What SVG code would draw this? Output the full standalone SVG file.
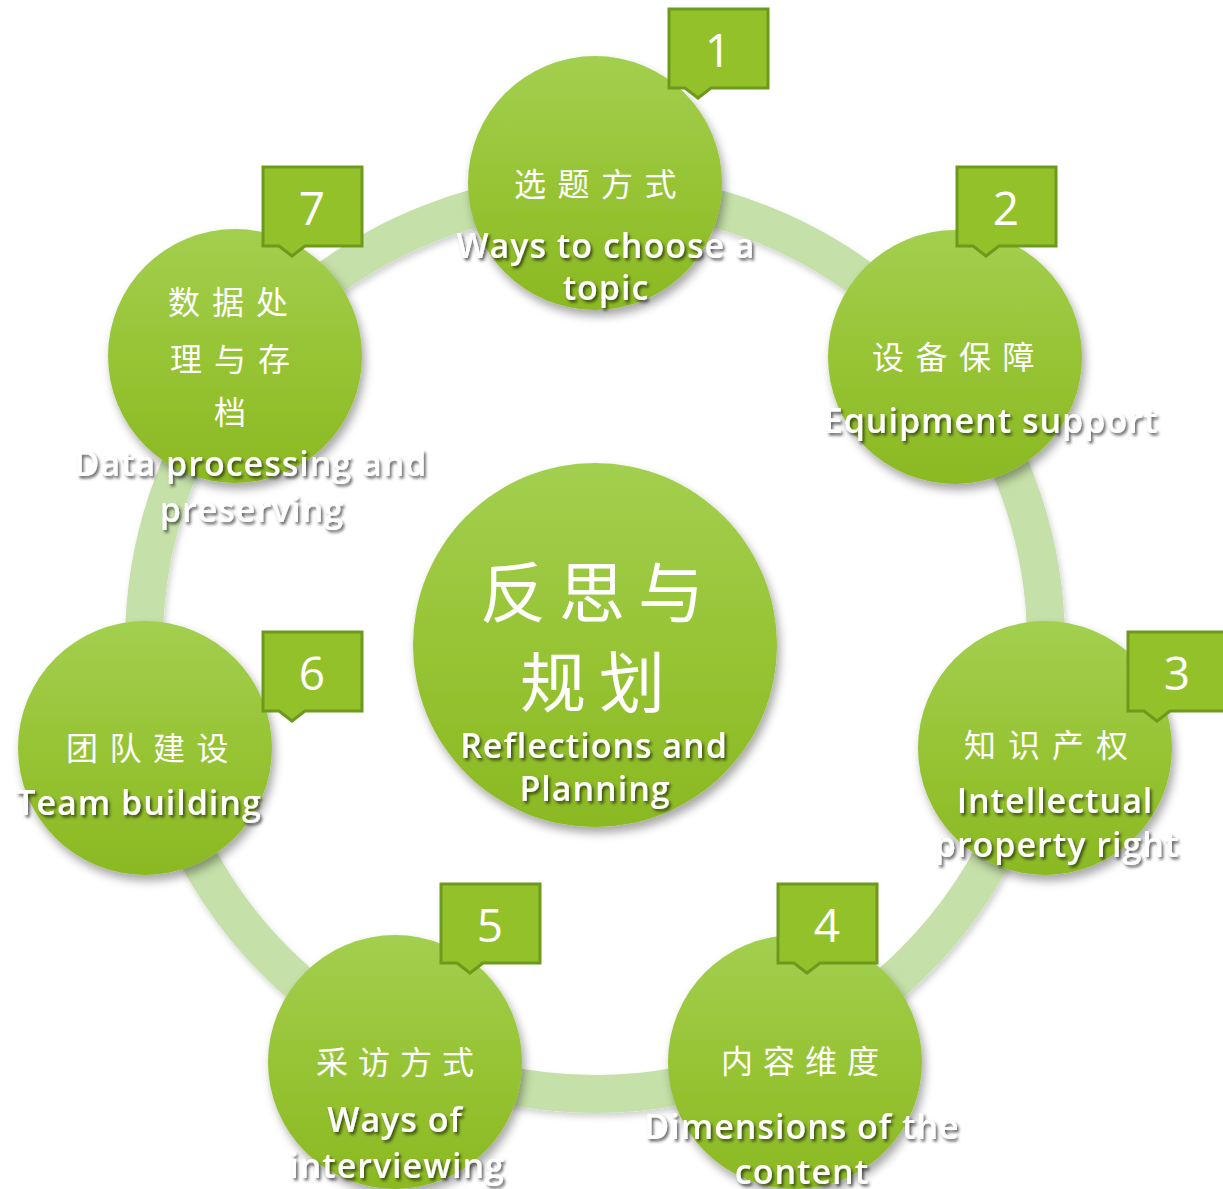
<svg xmlns="http://www.w3.org/2000/svg" width="1223" height="1189" viewBox="0 0 1223 1189">
<defs>
<linearGradient id="g" x1="0" y1="0" x2="0" y2="1">
<stop offset="0" stop-color="#a3cf50"/>
<stop offset="0.55" stop-color="#95c332"/>
<stop offset="1" stop-color="#8bb923"/>
</linearGradient>
<filter id="cs" x="-20%" y="-20%" width="150%" height="150%">
<feDropShadow dx="3" dy="6" stdDeviation="5" flood-color="#000" flood-opacity="0.35"/>
</filter>
<filter id="rs" x="-10%" y="-10%" width="120%" height="120%">
<feDropShadow dx="2" dy="4" stdDeviation="3" flood-color="#000" flood-opacity="0.18"/>
</filter>
<filter id="ts" x="-10%" y="-30%" width="120%" height="160%">
<feDropShadow dx="2" dy="2.5" stdDeviation="1.5" flood-color="#000" flood-opacity="0.6"/>
</filter>
<path id="box" d="M0,0 H99 V79 H42 L29,89 L16,79 H0 Z"/>
</defs>
<style>
.node circle{fill:url(#g);filter:url(#cs)}
.en{font-family:"Open Sans","DejaVu Sans",sans-serif;font-weight:600;font-size:34px;letter-spacing:1px;fill:#fff;text-anchor:middle;filter:url(#ts)}
.zh{font-family:"Noto Sans CJK SC","Noto Sans",sans-serif;font-size:32px;fill:#fff}
.zhc{font-family:"Noto Sans CJK SC","Noto Sans",sans-serif;font-size:66px;fill:#fff}
.num use{fill:#93c12a;stroke:#6d991d;stroke-width:3}
.num text{font-family:"Open Sans","DejaVu Sans",sans-serif;font-size:46px;fill:#fff;text-anchor:middle}
</style>
<rect width="1223" height="1189" fill="#fff"/>
<g id="connectors">
<circle cx="595" cy="643" r="451" fill="none" stroke="#c6e0a9" stroke-width="38" filter="url(#rs)"/>
</g>
<g id="node-center" class="node">
<circle cx="595" cy="645" r="182"/>
<text class="zhc" x="480" y="617" letter-spacing="13">反思与</text>
<text class="zhc" x="520" y="707" letter-spacing="13">规划</text>
<text class="en" x="594" y="758">Reflections and</text>
<text class="en" x="595" y="801">Planning</text>
</g>
<g id="node-1" class="node">
<circle cx="595" cy="183" r="127"/>
<text class="zh" x="514" y="196" letter-spacing="11.5">选题方式</text>
<text class="en" x="606" y="258">Ways to choose a</text>
<text class="en" x="606" y="300">topic</text>
</g>
<g id="node-2" class="node">
<circle cx="955" cy="357" r="127"/>
<text class="zh" x="872" y="369" letter-spacing="11.5">设备保障</text>
<text class="en" x="991" y="433">Equipment support</text>
</g>
<g id="node-3" class="node">
<circle cx="1045" cy="748" r="127"/>
<text class="zh" x="964" y="757" letter-spacing="12">知识产权</text>
<text class="en" x="1055" y="813">Intellectual</text>
<text class="en" x="1057" y="857">property right</text>
</g>
<g id="node-4" class="node">
<circle cx="795" cy="1062" r="127"/>
<text class="zh" x="721" y="1073" letter-spacing="10">内容维度</text>
<text class="en" x="802" y="1139">Dimensions of the</text>
<text class="en" x="802" y="1184">content</text>
</g>
<g id="node-5" class="node">
<circle cx="395" cy="1062" r="127"/>
<text class="zh" x="316" y="1074" letter-spacing="10">采访方式</text>
<text class="en" x="395" y="1132">Ways of</text>
<text class="en" x="397" y="1178">interviewing</text>
</g>
<g id="node-6" class="node">
<circle cx="145" cy="748" r="127"/>
<text class="zh" x="66" y="760" letter-spacing="11.5">团队建设</text>
<text class="en" x="139" y="815">Team building</text>
</g>
<g id="node-7" class="node">
<circle cx="235" cy="356" r="127"/>
<text class="zh" x="168" y="314" font-size="36" letter-spacing="12">数据处</text>
<text class="zh" x="170" y="371" font-size="36" letter-spacing="12">理与存</text>
<text class="zh" x="214" y="424" font-size="36">档</text>
<text class="en" x="251" y="476">Data processing and</text>
<text class="en" x="252" y="522">preserving</text>
</g>
<g id="badges" class="num">
<g id="badge-1"><use href="#box" x="669" y="9"/><text x="718" y="67">1</text></g>
<g id="badge-2"><use href="#box" x="957" y="167"/><text x="1006" y="225">2</text></g>
<g id="badge-3"><use href="#box" x="1128" y="632"/><text x="1177" y="690">3</text></g>
<g id="badge-4"><use href="#box" x="778" y="884"/><text x="827" y="942">4</text></g>
<g id="badge-5"><use href="#box" x="441" y="884"/><text x="490" y="942">5</text></g>
<g id="badge-6"><use href="#box" x="263" y="632"/><text x="312" y="690">6</text></g>
<g id="badge-7"><use href="#box" x="263" y="167"/><text x="312" y="225">7</text></g>
</g>
</svg>
